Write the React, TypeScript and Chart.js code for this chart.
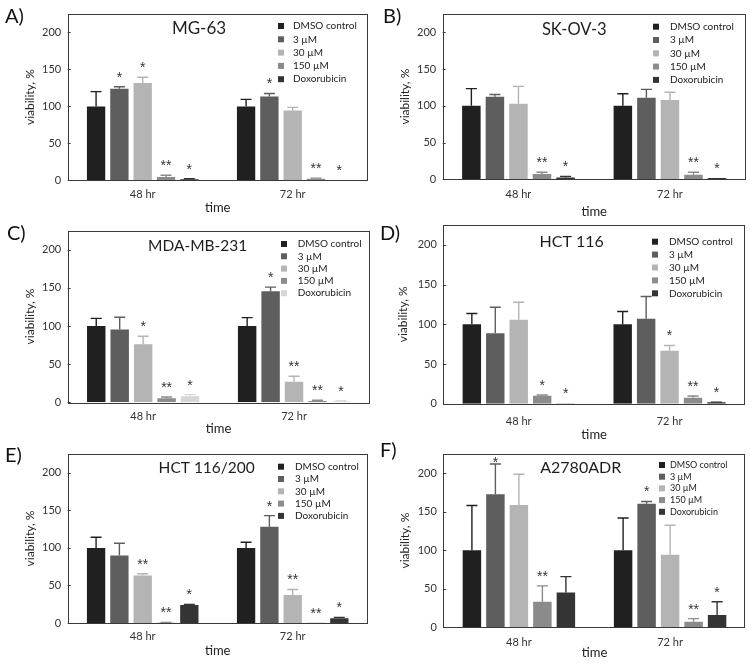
import React, { useEffect, useRef } from 'react';
import { Chart, registerables } from 'chart.js';

Chart.register(...registerables);

const FONT = 'Lato, "Open Sans", "DejaVu Sans", sans-serif';
const STAR_FONT = '"Liberation Sans", Arial, sans-serif';

const categories = ['48 hr', '72 hr'];
const seriesLabels = ['DMSO control', '3 µM', '30 µM', '150 µM', 'Doxorubicin'];
const yTickValues = [0, 50, 100, 150, 200];
const yMax = 225;

const colorsDark = ['#202020', '#5e5e5e', '#b4b4b4', '#8b8b8b', '#343434'];
const colorsLightDox = ['#202020', '#5e5e5e', '#b4b4b4', '#8b8b8b', '#d6d6d6'];

// A) MG-63  (per series: [48 hr, 72 hr])
const mg63Means = [[100, 100], [124, 113.5], [131.5, 94.6], [4.5, 2], [1.5, 0.3]];
const mg63Errors = [[20, 9.5], [2.6, 4], [8, 4], [2.3, 1], [0.5, 0]];
const mg63Stars = [['', ''], ['*', '*'], ['*', ''], ['**', '**'], ['*', '*']];

// B) SK-OV-3
const skov3Means = [[100, 100], [112.5, 111], [103, 108], [7.3, 6.3], [2.3, 1.8]];
const skov3Errors = [[23.4, 16.5], [3, 11.4], [23.5, 10.4], [2.2, 3.2], [1.7, 0]];
const skov3Stars = [['', ''], ['', ''], ['', ''], ['**', '**'], ['*', '*']];

// C) MDA-MB-231
const mdaMeans = [[100, 100], [95.4, 145.7], [76.1, 27.1], [5.3, 1.7], [7.9, 0.9]];
const mdaErrors = [[10, 11], [16.2, 5.3], [10.6, 7], [1.7, 0.9], [2.1, 0.9]];
const mdaStars = [['', ''], ['', '*'], ['*', '**'], ['**', '**'], ['*', '*']];

// D) HCT 116
const hctMeans = [[100, 100], [88.8, 107], [105.7, 66.8], [10.1, 7.6], [0.3, 1.7]];
const hctErrors = [[13.5, 16], [32.6, 28], [22, 6.4], [0.9, 2.1], [0, 0.3]];
const hctStars = [['', ''], ['', ''], ['', '*'], ['*', '**'], ['*', '*']];

// E) HCT 116/200
const hct200Means = [[100, 100], [89.8, 128.3], [63.3, 37.2], [0.4, 0.3], [23.9, 6.2]];
const hct200Errors = [[14.2, 7.5], [16.4, 14.6], [2.2, 7.5], [0.4, 0], [0.9, 1.3]];
const hct200Stars = [['', ''], ['', '*'], ['**', '**'], ['**', '**'], ['*', '*']];

// F) A2780ADR
const a2780Means = [[100, 100], [172.9, 160.4], [158.7, 94.2], [33.1, 7.3], [45.2, 15.9]];
const a2780Errors = [[58.1, 41.9], [39.1, 3], [40, 38.3], [20.7, 3.9], [20.6, 17.2]];
const a2780Stars = [['', ''], ['*', '*'], ['', ''], ['**', '**'], ['', '*']];

type PanelCfg = {
  letter: string; title: string;
  means: number[][]; errors: number[][]; stars: string[][]; colors: string[];
  x: number; y: number; w: number; h: number;
  L: number; T: number; R: number; B: number;
  yTitleX: number; xTitleY: number; xTickY: number;
  titleX: number; titleY: number; titleSize: number;
  legSqX: number; legTxtX: number; legY0: number; legDy: number; legSize: number;
  letterX: number; letterY: number;
};

const panels: PanelCfg[] = [
  {
    letter: 'A)', title: 'MG-63', means: mg63Means, errors: mg63Errors, stars: mg63Stars, colors: colorsDark,
    x: 0, y: 0, w: 375, h: 220, L: 67.7, T: 14, R: 367.7, B: 180.3,
    yTitleX: 30, xTitleY: 208, xTickY: 194.3, titleX: 199, titleY: 29, titleSize: 17,
    legSqX: 278, legTxtX: 293, legY0: 26, legDy: 13.3, legSize: 10, letterX: 5, letterY: 23,
  },
  {
    letter: 'B)', title: 'SK-OV-3', means: skov3Means, errors: skov3Errors, stars: skov3Stars, colors: colorsDark,
    x: 375, y: 0, w: 375, h: 220, L: 442.7, T: 14, R: 745.7, B: 179.3,
    yTitleX: 405, xTitleY: 212, xTickY: 194.3, titleX: 574.3, titleY: 29.3, titleSize: 16.5,
    legSqX: 653, legTxtX: 670, legY0: 26.7, legDy: 13.3, legSize: 10, letterX: 383, letterY: 23,
  },
  {
    letter: 'C)', title: 'MDA-MB-231', means: mdaMeans, errors: mdaErrors, stars: mdaStars, colors: colorsLightDox,
    x: 0, y: 220, w: 375, h: 220, L: 67.7, T: 230.7, R: 369.5, B: 402.3,
    yTitleX: 30, xTitleY: 429, xTickY: 416.7, titleX: 197.7, titleY: 246, titleSize: 15.5,
    legSqX: 281, legTxtX: 297.7, legY0: 244, legDy: 12.3, legSize: 10, letterX: 7, letterY: 240,
  },
  {
    letter: 'D)', title: 'HCT 116', means: hctMeans, errors: hctErrors, stars: hctStars, colors: colorsDark,
    x: 375, y: 220, w: 375, h: 220, L: 443.3, T: 225, R: 745, B: 403.7,
    yTitleX: 403, xTitleY: 435, xTickY: 421, titleX: 571.7, titleY: 241.7, titleSize: 16,
    legSqX: 652, legTxtX: 669, legY0: 241.7, legDy: 12.9, legSize: 10, letterX: 380, letterY: 240,
  },
  {
    letter: 'E)', title: 'HCT 116/200', means: hct200Means, errors: hct200Errors, stars: hct200Stars, colors: colorsDark,
    x: 0, y: 440, w: 375, h: 224, L: 67.7, T: 454, R: 367.7, B: 623,
    yTitleX: 30, xTitleY: 650.7, xTickY: 636.7, titleX: 206.7, titleY: 468.3, titleSize: 15.5,
    legSqX: 278, legTxtX: 295, legY0: 466.7, legDy: 12.3, legSize: 10, letterX: 5, letterY: 462,
  },
  {
    letter: 'F)', title: 'A2780ADR', means: a2780Means, errors: a2780Errors, stars: a2780Stars, colors: colorsDark,
    x: 375, y: 440, w: 375, h: 224, L: 443.3, T: 454, R: 745.7, B: 627.3,
    yTitleX: 405, xTitleY: 653, xTickY: 642.7, titleX: 580.7, titleY: 467.7, titleSize: 16,
    legSqX: 659, legTxtX: 670, legY0: 465, legDy: 11.7, legSize: 9, letterX: 380, letterY: 457,
  },
];

const decorPlugin = {
  id: 'decor',
  afterDatasetsDraw(chart: any, _args: any, _opts: any) {
    const { ctx, chartArea: ca, scales } = chart;
    const ys = scales.y;
    ctx.save();
    chart.data.datasets.forEach((ds: any, i: number) => {
      const meta = chart.getDatasetMeta(i);
      meta.data.forEach((bar: any, j: number) => {
        const v = ds.data[j];
        const e = ds.errors[j];
        const topPx = ys.getPixelForValue(v + e);
        if (e > 0) {
          const hw = bar.width * 0.3;
          ctx.strokeStyle = ds.backgroundColor;
          ctx.lineWidth = 1.4;
          ctx.beginPath();
          ctx.moveTo(bar.x, bar.y);
          ctx.lineTo(bar.x, topPx);
          ctx.moveTo(bar.x - hw, topPx);
          ctx.lineTo(bar.x + hw, topPx);
          ctx.stroke();
        }
        const star = ds.stars[j];
        if (star) {
          const cy = Math.max(topPx - 12, ca.top + 6);
          ctx.fillStyle = '#333';
          ctx.font = `14px ${STAR_FONT}`;
          ctx.textAlign = 'center';
          ctx.textBaseline = 'middle';
          ctx.fillText(star, bar.x, cy + 3);
        }
      });
    });
    ctx.restore();
  },
  afterDraw(chart: any, _args: any, opts: any) {
    const p: PanelCfg = opts.panel;
    const { ctx, chartArea: ca, scales } = chart;
    const ys = scales.y;
    ctx.save();
    ctx.strokeStyle = '#3a3a3a';
    ctx.lineWidth = 1;
    ctx.strokeRect(Math.round(ca.left) + 0.5, Math.round(ca.top) + 0.5,
      Math.round(ca.right - ca.left) - 1, Math.round(ca.bottom - ca.top));
    ctx.beginPath();
    ys.ticks.forEach((t: any) => {
      const py = Math.round(ys.getPixelForValue(t.value)) + 0.5;
      ctx.moveTo(ca.left, py);
      ctx.lineTo(ca.left + 3, py);
    });
    ctx.stroke();
    ctx.fillStyle = '#1e1e1e';
    ctx.font = `${p.titleSize}px ${FONT}`;
    ctx.textAlign = 'center';
    ctx.textBaseline = 'middle';
    ctx.fillText(p.title, p.titleX - p.x, p.titleY - p.y);
    ctx.font = `${p.legSize}px ${FONT}`;
    ctx.textAlign = 'left';
    chart.data.datasets.forEach((ds: any, i: number) => {
      const cy = p.legY0 - p.y + i * p.legDy;
      ctx.fillStyle = ds.backgroundColor;
      ctx.fillRect(p.legSqX - p.x, cy - 3, 6, 6);
      ctx.fillStyle = '#222';
      ctx.fillText(ds.label, p.legTxtX - p.x, cy);
    });
    ctx.fillStyle = '#111';
    ctx.font = `20px ${FONT}`;
    ctx.textBaseline = 'alphabetic';
    ctx.fillText(p.letter, p.letterX - p.x, p.letterY - p.y);
    ctx.restore();
  },
};

function Panel({ p }: { p: PanelCfg }) {
  const ref = useRef<HTMLCanvasElement>(null);
  useEffect(() => {
    if (!ref.current) return;
    const yW = p.L - p.x;
    const top = p.T - p.y;
    const right = p.x + p.w - p.R;
    const xH = p.y + p.h - p.B;
    const tickFont = { family: FONT, size: 11 };
    const xTitleFont = { family: FONT, size: 13 };
    const yTitleFont = { family: FONT, size: 12 };
    const chart = new Chart(ref.current, {
      type: 'bar',
      data: {
        labels: categories,
        datasets: seriesLabels.map((label, i) => ({
          label,
          data: p.means[i],
          errors: p.errors[i],
          stars: p.stars[i],
          backgroundColor: p.colors[i],
          borderWidth: 0,
          categoryPercentage: 0.777,
          barPercentage: 0.786,
        })) as any,
      },
      options: {
        responsive: false,
        animation: false,
        devicePixelRatio: 1,
        layout: { padding: { left: 0, top, right, bottom: 0 } },
        plugins: {
          legend: { display: false },
          tooltip: { enabled: false },
          decor: { panel: p },
        } as any,
        scales: {
          x: {
            type: 'category',
            grid: { display: false, drawTicks: false },
            border: { display: false },
            ticks: { color: '#333', font: tickFont, padding: (p.xTickY - p.B) - 6.6 },
            title: {
              display: true, text: 'time', color: '#222', font: xTitleFont,
              padding: { top: 0, bottom: (p.y + p.h - p.xTitleY) - 7.8 },
            },
            afterFit: (s: any) => { s.height = xH; s.paddingLeft = 0; s.paddingRight = 0; },
          },
          y: {
            min: 0,
            max: yMax,
            afterBuildTicks: (s: any) => { s.ticks = yTickValues.map((v) => ({ value: v })); },
            grid: { display: false, drawTicks: false },
            border: { display: false },
            ticks: { color: '#333', font: tickFont, padding: 6.5 },
            title: {
              display: true, text: 'viability, %', color: '#222', font: yTitleFont,
              padding: { top: (p.yTitleX - p.x) - 7.2, bottom: 0 },
            },
            afterFit: (s: any) => { s.width = yW; s.paddingTop = 0; s.paddingBottom = 0; },
          },
        },
      } as any,
      plugins: [decorPlugin as any],
    });
    return () => chart.destroy();
  }, [p]);
  return (
    <canvas
      ref={ref}
      width={p.w}
      height={p.h}
      style={{ position: 'absolute', left: p.x, top: p.y, width: p.w, height: p.h }}
    />
  );
}

export default function App() {
  return (
    <div style={{ position: 'absolute', left: 0, top: 0, width: 750, height: 664, background: '#fff', overflow: 'hidden' }}>
      {panels.map((p) => <Panel key={p.letter} p={p} />)}
    </div>
  );
}
